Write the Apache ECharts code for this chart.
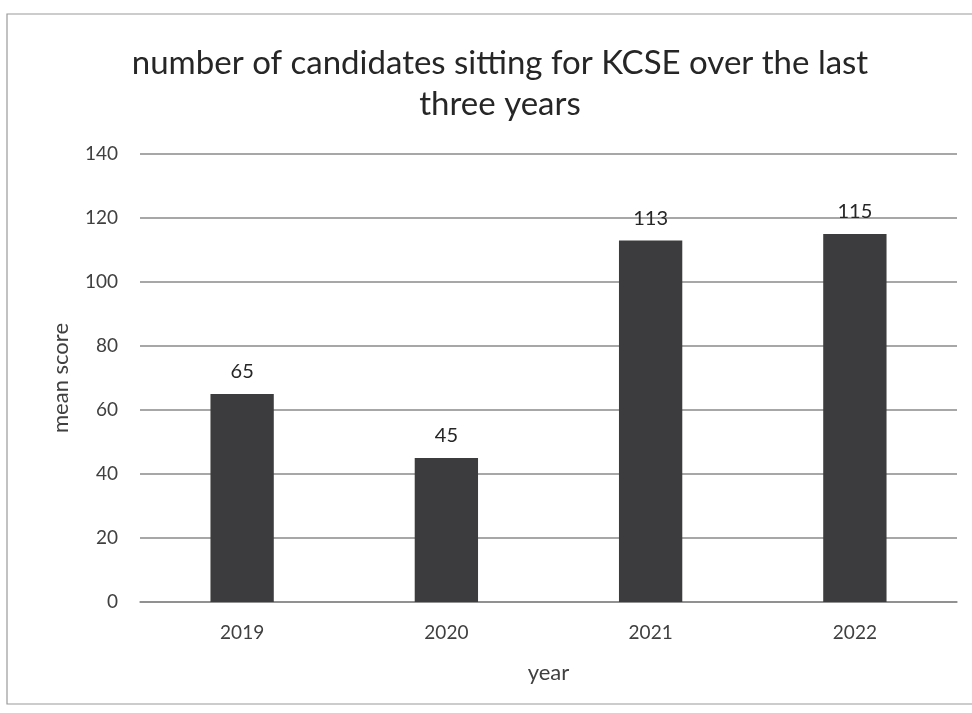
<!DOCTYPE html>
<html>
<head>
<meta charset="utf-8">
<script src="https://cdn.jsdelivr.net/npm/echarts@6/dist/echarts.min.js"></script>
<style>html,body{margin:0;padding:0;background:#fff;}#c{width:972px;height:713px;}</style>
</head>
<body>
<div id="c"></div>
<script>
const titleText = "number of candidates sitting for KCSE over the last\nthree years";
const categories = ["2019", "2020", "2021", "2022"];
const values = [65, 45, 113, 115];
const yTicks = { min: 0, max: 140, interval: 20 };
const xName = "year";
const yName = "mean score";

const FONT = "Lato, 'Open Sans', sans-serif";
const chart = echarts.init(document.getElementById('c'), null, { renderer: 'canvas' });
chart.setOption({
  backgroundColor: '#ffffff',
  animation: false,
  graphic: [{
    type: 'rect', shape: { x: 7, y: 14, width: 980, height: 690 },
    style: { fill: 'none', stroke: '#9a9a9a', lineWidth: 1.2 }, silent: true
  }],
  title: {
    text: titleText, left: 495, top: 38, textAlign: 'center',
    textStyle: { fontFamily: FONT, fontSize: 33, fontWeight: 'normal', color: '#262626', lineHeight: 41 }
  },
  grid: { left: 140, right: 15, top: 154, bottom: 111 },
  xAxis: {
    type: 'category', data: categories,
    name: xName, nameLocation: 'middle', nameGap: 60,
    nameTextStyle: { fontFamily: FONT, fontSize: 22, color: '#404040' },
    axisLine: { show: true, lineStyle: { color: '#8a8a8a', width: 1.5 } },
    axisTick: { show: false },
    axisLabel: { fontFamily: FONT, fontSize: 19, color: '#404040', margin: 21 }
  },
  yAxis: {
    type: 'value', min: yTicks.min, max: yTicks.max, interval: yTicks.interval,
    name: yName, nameLocation: 'middle', nameGap: 68, nameRotate: 90,
    nameTextStyle: { fontFamily: FONT, fontSize: 22, color: '#404040' },
    axisLine: { show: false }, axisTick: { show: false },
    axisLabel: { fontFamily: FONT, fontSize: 19, color: '#404040', margin: 22 },
    splitLine: { show: true, lineStyle: { color: '#8a8a8a', width: 1.5 } }
  },
  series: [{
    type: 'bar', data: values, barWidth: '31%',
    itemStyle: { color: '#3c3c3e' },
    label: { show: true, position: 'top', distance: 12, fontFamily: FONT, fontSize: 20, color: '#262626' }
  }]
});
</script>
</body>
</html>
